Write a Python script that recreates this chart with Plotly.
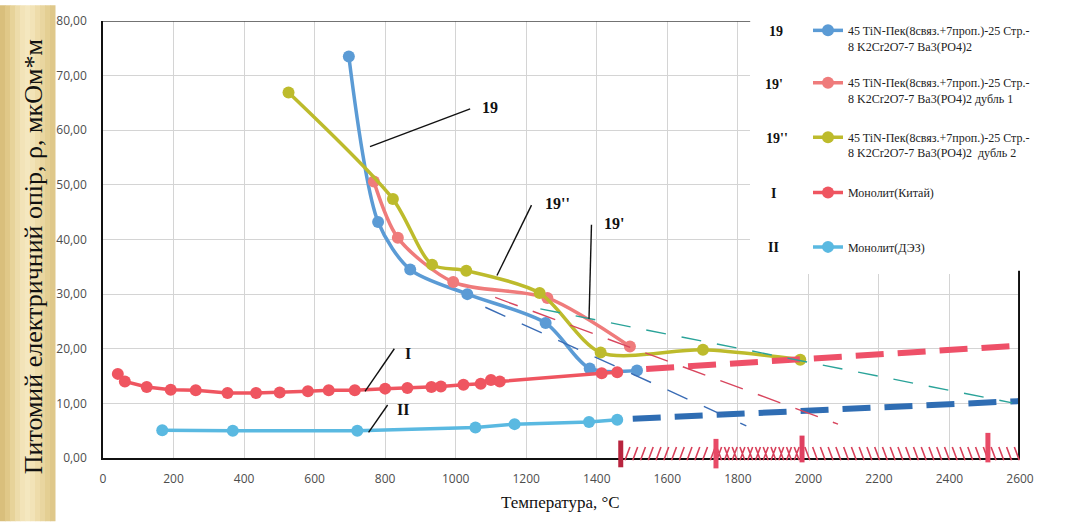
import plotly.graph_objects as go

# ---- measured data: temperature (°C) vs specific electrical resistance (µΩ·m) ----
t_19 = [697, 780, 871, 1033, 1255, 1380, 1514]
r_19 = [73.5, 43.2, 34.5, 30.0, 24.7, 16.4, 16.0]

t_19a = [768, 836, 993, 1260, 1494]
r_19a = [50.6, 40.3, 32.2, 29.3, 20.4]

t_19b = [526, 822, 933, 1030, 1238, 1411, 1701, 1977]
r_19b = [66.9, 47.4, 35.4, 34.3, 30.2, 19.3, 19.8, 18.0]

t_I = [42, 62, 124, 192, 263, 353, 434, 501, 581, 640, 714, 800, 863, 931,
       958, 1022, 1071, 1100, 1125, 1414, 1458]
r_I = [15.4, 14.0, 13.0, 12.5, 12.4, 11.9, 11.9, 12.0, 12.2, 12.4, 12.4, 12.7,
       12.8, 13.0, 13.1, 13.4, 13.6, 14.3, 14.0, 15.5, 15.7]

t_II = [168, 368, 721, 1056, 1167, 1378, 1458]
r_II = [5.1, 5.0, 5.0, 5.6, 6.2, 6.6, 7.0]

# hand-drawn extrapolation lines: (t_start, t_end), (r_start, r_end)
ext_I_t, ext_I_r = [1540, 2625], [16.3, 20.7]
ext_II_t, ext_II_r = [1502, 2625], [7.2, 10.5]
trend_teal_t, trend_teal_r = [1240, 2578], [27.3, 10.1]
trend_red_t, trend_red_r = [1112, 2084], [29.4, 6.2]
trend_blue_t, trend_blue_r = [1084, 1824], [27.6, 5.9]

# marked temperatures on the axis and hatched zones
mark_t = [1468, 1738, 1982, 2509]
zone_fwd = [1480, 1730]     # "/" hatch
zone_cross = [1740, 1975]   # "X" hatch
zone_back = [1990, 2595]    # "\" hatch

y_ticks = [0, 10, 20, 30, 40, 50, 60, 70, 80]
y_ticktext = ["0,00", "10,00", "20,00", "30,00", "40,00", "50,00", "60,00", "70,00", "80,00"]
x_ticks = list(range(0, 2601, 200))

names = [
    "45 TiN-Пек(8связ.+7проп.)-25 Стр.-<br>8 K2Cr2O7-7 Ba3(PO4)2",
    "45 TiN-Пек(8связ.+7проп.)-25 Стр.-<br>8 K2Cr2O7-7 Ba3(PO4)2 дубль 1",
    "45 TiN-Пек(8связ.+7проп.)-25 Стр.-<br>8 K2Cr2O7-7 Ba3(PO4)2  дубль 2",
    "Монолит(Китай)",
    "Монолит(ДЭЗ)",
]
codes = ["19", "19'", "19''", "I", "II"]
colors = ["#5b9bd5", "#ef7b7b", "#bdbb2c", "#ef5560", "#5ab9e1"]

W, H = 1070, 522
ML, MR, MT, MB = 103, 50, 16, 64
X_MAX, Y_MAX = 2600, 80
PW, PH = W - ML - MR, H - MT - MB


def px_x(px):
    return (px - ML) / PW


def px_y(py):
    return (H - MB - py) / PH


def yp(v):
    return v / Y_MAX


SERIF = "Liberation Serif"
SANS = "Open Sans"

fig = go.Figure()

series = [
    (t_19, r_19, "spline"),
    (t_19a, r_19a, "spline"),
    (t_19b, r_19b, "spline"),
    (t_I, r_I, "linear"),
    (t_II, r_II, "linear"),
]
for i, (tx, ry, shape) in enumerate(series):
    fig.add_trace(go.Scatter(
        x=tx, y=ry, mode="lines+markers", name=names[i],
        line=dict(color=colors[i], width=3.5, shape=shape, smoothing=0.8),
        marker=dict(color=colors[i], size=12),
        legend="legend" if i == 0 else f"legend{i + 1}",
    ))

# extrapolations (thick) and trend lines (thin)
dashed = [
    (ext_I_t, ext_I_r, "#ee5068", 6, "28px,14px"),
    (ext_II_t, ext_II_r, "#2f6db3", 6, "28px,14px"),
    (trend_teal_t, trend_teal_r, "#2aa399", 1.4, "20px,16px"),
    (trend_red_t, trend_red_r, "#d8465e", 1.4, "24px,16px"),
    (trend_blue_t, trend_blue_r, "#3a6cb5", 1.4, "22px,18px"),
]
for tx, ry, c, w, d in dashed:
    fig.add_trace(go.Scatter(x=tx, y=ry, mode="lines", showlegend=False,
                             line=dict(color=c, width=w, dash=d), hoverinfo="skip"))

shapes = []

# gold side panel with the axis title
panel = ["#d9bf7c", "#e0c888", "#e7d399", "#eddcaa", "#f2e3b8", "#f4e7bf",
         "#f2e3b7", "#eedcaa", "#e9d6a0", "#e4cf93", "#dfc88a"]
step = 55 / len(panel)
for k, c in enumerate(panel):
    shapes.append(dict(type="rect", xref="paper", yref="paper",
                       x0=px_x(k * step), x1=px_x((k + 1) * step + 0.5),
                       y0=px_y(H), y1=px_y(0), fillcolor=c, line=dict(width=0),
                       layer="below"))

# blank area behind the legend
shapes.append(dict(type="rect", xref="paper", yref="paper",
                   x0=px_x(750), x1=px_x(W), y0=px_y(272), y1=px_y(0),
                   fillcolor="white", line=dict(width=0), layer="above"))
# top frame line
shapes.append(dict(type="line", xref="x", yref="y", x0=0, x1=1835, y0=80, y1=80,
                   line=dict(color="#444444", width=1.3), layer="above"))
# right frame line at 2600
shapes.append(dict(type="line", xref="x", yref="y", x0=2598, x1=2598, y0=0, y1=34.3,
                   line=dict(color="#111111", width=2.5), layer="above"))

# hatching along the temperature axis
path = ""
hw, y_lo, y_hi, dx = 14, yp(-0.4), yp(2.0), 22
t = zone_fwd[0]
while t <= zone_fwd[1]:
    path += f"M{t},{y_lo} L{t + hw},{y_hi} "
    t += dx
t = zone_cross[0]
while t <= zone_cross[1]:
    path += f"M{t},{y_lo} L{t + hw},{y_hi} M{t},{y_hi} L{t + hw},{y_lo} "
    t += dx
t = zone_back[0]
while t <= zone_back[1]:
    path += f"M{t},{y_hi} L{t + hw},{y_lo} "
    t += dx
shapes.append(dict(type="path", xref="x", yref="paper", path=path,
                   line=dict(color="#d8405a", width=1.6), layer="above"))

mark_span = [(3.2, -1.7), (3.5, -1.9), (4.1, -0.8), (4.6, -0.8)]
mark_col = ["#b8243e", "#e84a66", "#e04060", "#e84a66"]
for tm, (a, b), c in zip(mark_t, mark_span, mark_col):
    shapes.append(dict(type="line", xref="x", yref="paper", x0=tm, x1=tm,
                       y0=yp(b), y1=yp(a), line=dict(color=c, width=5), layer="above"))

# leader lines of the curve labels
leaders = [
    (757, 57.0, 1041, 63.9),
    (1117, 33.4, 1215, 46.3),
    (1378, 25.5, 1385, 42.7),
    (743, 12.2, 826, 20.0),
    (753, 4.7, 807, 9.7),
]
for x0, y0, x1, y1 in leaders:
    shapes.append(dict(type="line", xref="x", yref="y", x0=x0, y0=y0, x1=x1, y1=y1,
                       line=dict(color="#111111", width=1.4), layer="above"))

annotations = []
curve_labels = [("19", 1098, 64.2), ("19''", 1289, 46.5), ("19'", 1449, 43.0),
                ("I", 865, 19.1), ("II", 851, 8.8)]
for txt, ax_, ay_ in curve_labels:
    annotations.append(dict(x=ax_, y=ay_, xref="x", yref="y", text=f"<b>{txt}</b>",
                            xanchor="center", yanchor="middle", showarrow=False,
                            font=dict(family=SERIF, size=16, color="#111111")))

legend_px = [(776, 27), (774, 80), (777, 135), (773, 190), (773, 245)]
for code, (lx, ly) in zip(codes, legend_px):
    annotations.append(dict(x=px_x(lx), y=px_y(ly), xref="paper", yref="paper",
                            xanchor="center", yanchor="middle",
                            text=f"<b>{code}</b>", showarrow=False,
                            font=dict(family=SERIF, size=14, color="#111111")))

annotations.append(dict(x=px_x(33), y=px_y(255), xref="paper", yref="paper",
                        xanchor="center", yanchor="middle",
                        text="Питомий електричний опір, ρ, мкОм*м", textangle=-90,
                        showarrow=False, font=dict(family=SERIF, size=26, color="#111111")))
annotations.append(dict(x=px_x(560), y=px_y(503), xref="paper", yref="paper",
                        xanchor="center", yanchor="middle",
                        text="Температура, °C", showarrow=False,
                        font=dict(family=SERIF, size=17, color="#111111")))

legend_style = dict(font=dict(family=SERIF, size=12, color="#222222"),
                    bgcolor="rgba(0,0,0,0)", valign="top", xanchor="left",
                    yanchor="top", tracegroupgap=0, itemwidth=30)
legend_tops = [11, 64, 119, 175, 230]
layout_legends = {}
for i, top in enumerate(legend_tops):
    key = "legend" if i == 0 else f"legend{i + 1}"
    layout_legends[key] = dict(x=px_x(808), y=px_y(top), **legend_style)

fig.update_layout(
    width=W, height=H,
    margin=dict(l=ML, r=MR, t=MT, b=MB, pad=0),
    paper_bgcolor="white", plot_bgcolor="white",
    xaxis=dict(range=[0, X_MAX], tickvals=x_ticks, showgrid=True, gridcolor="#d4d4d4",
               gridwidth=1, zeroline=False, showline=True, linecolor="#111111", linewidth=1.5,
               ticks="", ticklabelstandoff=9,
               tickfont=dict(family=SANS, size=12, color="#4d4d4d")),
    yaxis=dict(range=[0, Y_MAX], tickvals=y_ticks, ticktext=y_ticktext, showgrid=True,
               gridcolor="#d4d4d4", gridwidth=1, zeroline=False, showline=True,
               linecolor="#111111", linewidth=1.5, ticks="", ticklabelstandoff=12,
               tickfont=dict(family=SANS, size=12, color="#4d4d4d")),
    shapes=shapes, annotations=annotations, hovermode=False,
    **layout_legends,
)

fig.write_html("out.html")
